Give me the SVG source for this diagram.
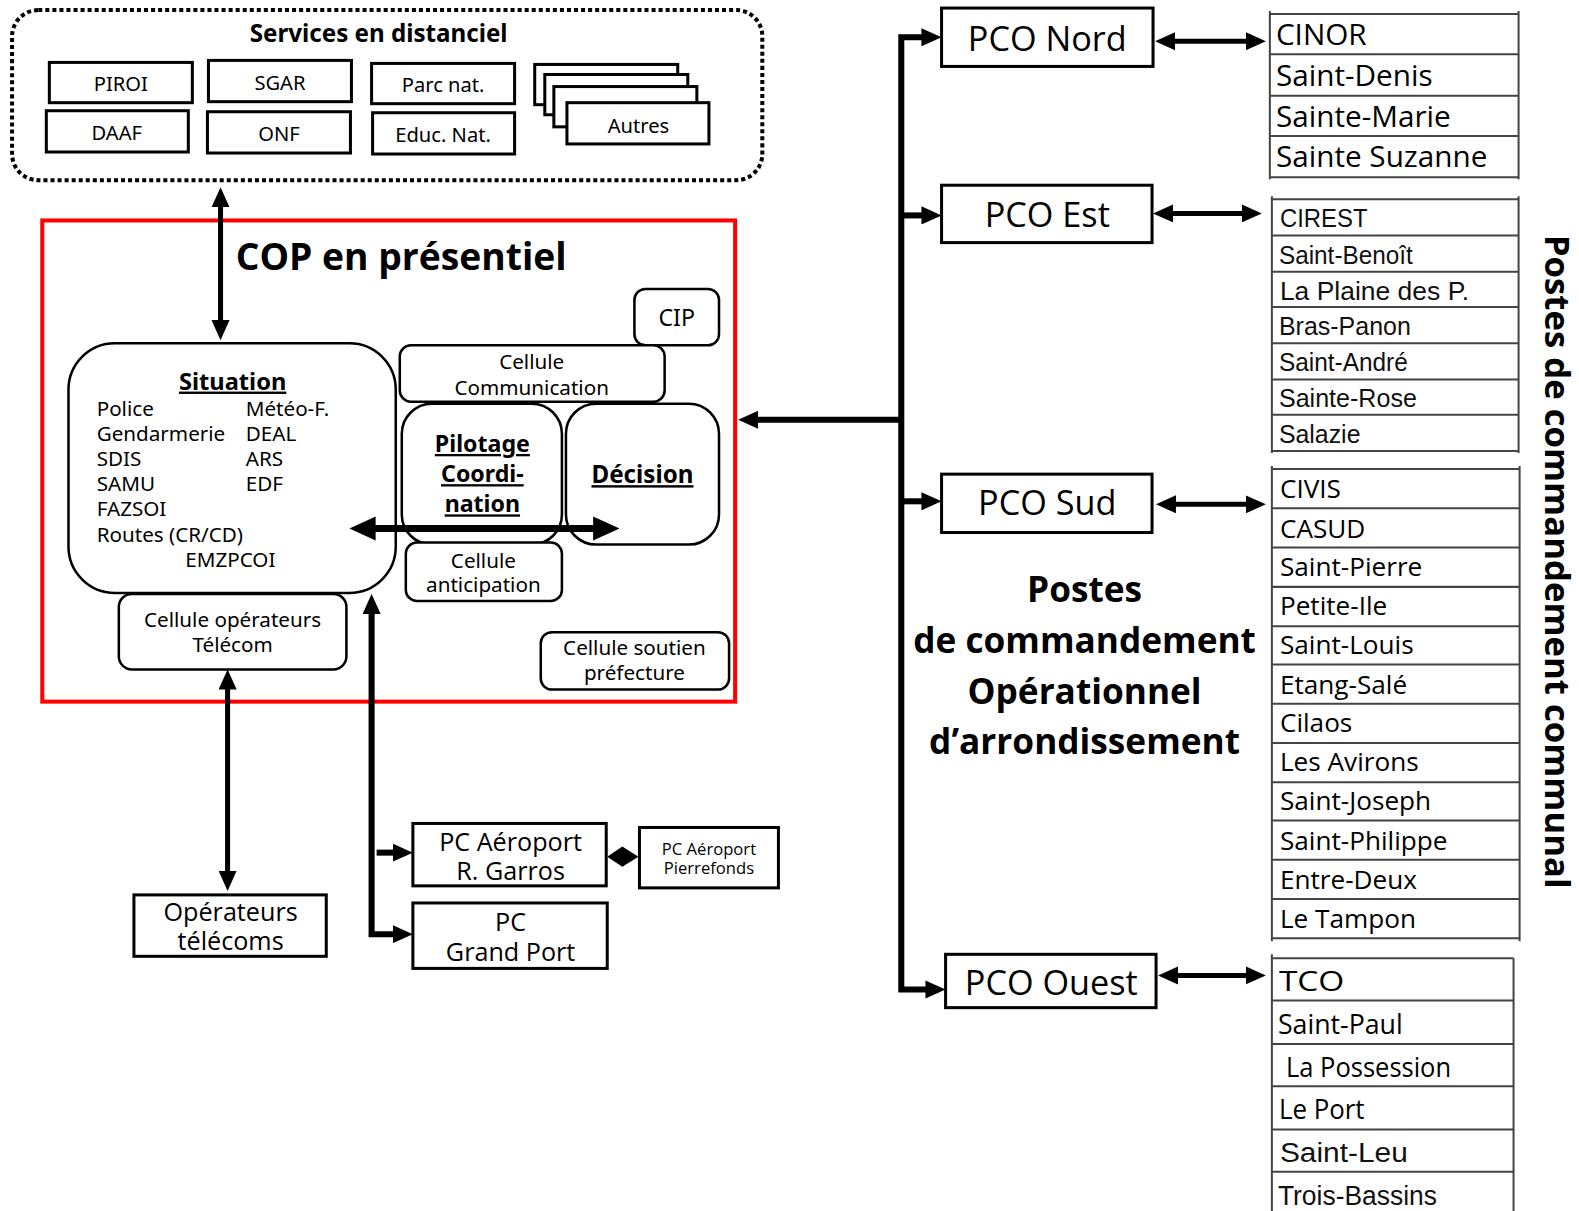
<svg xmlns="http://www.w3.org/2000/svg" width="1579" height="1211" viewBox="0 0 1579 1211">
<style>
.bx{fill:#fff;stroke:#000;stroke-width:3}
.rb{fill:#fff;stroke:#000;stroke-width:2.5}
.m{font-family:"Noto Sans","Open Sans",sans-serif;fill:#000}
.c{font-family:"Open Sans","Noto Sans",sans-serif;fill:#000}
.n{font-family:"Liberation Sans",Arial,sans-serif;fill:#111}
.b{font-weight:bold}
.mid{text-anchor:middle}
.ln{stroke:#000;fill:none}
.tl{stroke:#444;stroke-width:2;fill:none}
</style>
<defs>
<marker id="ah" markerUnits="userSpaceOnUse" markerWidth="20" markerHeight="18" refX="2" refY="9" orient="auto-start-reverse"><path d="M0,0 L20,9 L0,18 z" fill="#000"/></marker>
<marker id="ahb" markerUnits="userSpaceOnUse" markerWidth="26" markerHeight="24" refX="2" refY="12" orient="auto-start-reverse"><path d="M0,0 L26,12 L0,24 z" fill="#000"/></marker>
</defs>
<rect width="1579" height="1211" fill="#fff"/>
<g transform="scale(1.00702,1.00665)">
<g id="services">
<rect x="12" y="10" width="745" height="169" rx="26" fill="none" stroke="#000" stroke-width="4" stroke-dasharray="4 3"/>
<text class="m b mid" x="376" y="42" font-size="24">Services en distanciel</text>
</g>
<g id="piroi"><rect class="bx" x="49" y="62" width="142" height="40"/><text class="m mid" x="120" y="90" font-size="20">PIROI</text></g>
<g id="sgar"><rect class="bx" x="207" y="60" width="142" height="41"/><text class="m mid" x="278" y="89" font-size="20">SGAR</text></g>
<g id="parc"><rect class="bx" x="369" y="63" width="142" height="40"/><text class="m mid" x="440" y="91" font-size="20">Parc nat.</text></g>
<g id="daaf"><rect class="bx" x="46" y="110" width="141" height="41"/><text class="m mid" x="116" y="139" font-size="20">DAAF</text></g>
<g id="onf"><rect class="bx" x="206" y="111" width="142" height="41"/><text class="m mid" x="277" y="140" font-size="20">ONF</text></g>
<g id="educ"><rect class="bx" x="370" y="112" width="141" height="41"/><text class="m mid" x="440" y="141" font-size="20">Educ. Nat.</text></g>
<g id="autres">
<rect class="bx" x="531" y="64" width="142" height="40"/>
<rect class="bx" x="541" y="74" width="142" height="40"/>
<rect class="bx" x="550" y="86" width="142" height="40"/>
<rect class="bx" x="563" y="102" width="141" height="41"/>
<text class="m mid" x="634" y="132" font-size="20">Autres</text>
</g>

<g id="cop">
<rect x="42" y="219" width="688" height="478" fill="none" stroke="#f00" stroke-width="4"/>
<text class="c b" x="234" y="268" font-size="37">COP en présentiel</text>
</g>
<g id="situation">
<rect class="rb" x="68" y="341" width="325" height="248" rx="46"/>
<text class="m b mid" x="231" y="387" font-size="23.5" text-decoration="underline">Situation</text>
<g class="m" font-size="20.5">
<text x="96" y="413">Police</text><text x="244" y="413">Météo-F.</text>
<text x="96" y="438">Gendarmerie</text><text x="244" y="438">DEAL</text>
<text x="96" y="463">SDIS</text><text x="244" y="463">ARS</text>
<text x="96" y="488">SAMU</text><text x="244" y="488">EDF</text>
<text x="96" y="513">FAZSOI</text>
<text x="96" y="538">Routes (CR/CD)</text>
<text x="184" y="563">EMZPCOI</text>
</g>
</g>
<g id="cip"><rect class="rb" x="630" y="287" width="84" height="56" rx="11"/><text class="m mid" x="672" y="324" font-size="23">CIP</text></g>
<g id="com"><rect class="rb" x="397" y="343" width="263" height="56" rx="11"/><text class="m mid" x="528" y="367" font-size="20.5">Cellule</text><text class="m mid" x="528" y="392" font-size="20.5">Communication</text></g>
<g id="pilotage"><rect class="rb" x="399" y="401" width="159" height="140" rx="30"/>
<text class="m b mid" x="479" y="449" font-size="23" text-decoration="underline">Pilotage</text>
<text class="m b mid" x="479" y="479" font-size="23" text-decoration="underline">Coordi-</text>
<text class="m b mid" x="479" y="509" font-size="23" text-decoration="underline">nation</text></g>
<g id="decision"><rect class="rb" x="562" y="401" width="152" height="140" rx="30"/>
<text class="m b mid" x="638" y="480" font-size="24" text-decoration="underline">Décision</text></g>
<g id="anticipation"><rect class="rb" x="403" y="539" width="155" height="58" rx="11"/><text class="m mid" x="480" y="564" font-size="20.5">Cellule</text><text class="m mid" x="480" y="588" font-size="20.5">anticipation</text></g>
<g id="telecom"><rect class="rb" x="118" y="590" width="226" height="75" rx="13"/><text class="m mid" x="231" y="623" font-size="20.5">Cellule opérateurs</text><text class="m mid" x="231" y="648" font-size="20.5">Télécom</text></g>
<g id="soutien"><rect class="rb" x="537" y="628" width="187" height="57" rx="11"/><text class="m mid" x="630" y="651" font-size="20.5">Cellule soutien</text><text class="m mid" x="630" y="676" font-size="20.5">préfecture</text></g>

<g id="operateurs"><rect class="bx" x="133" y="889" width="191" height="61"/><text class="c mid" x="229" y="915" font-size="25">Opérateurs</text><text class="c mid" x="229" y="944" font-size="25">télécoms</text></g>
<g id="garros"><rect class="bx" x="410" y="818" width="192" height="62"/><text class="c mid" x="507" y="845" font-size="25">PC Aéroport</text><text class="c mid" x="507" y="874" font-size="25">R. Garros</text></g>
<g id="grandport"><rect class="bx" x="410" y="897" width="193" height="65"/><text class="c mid" x="507" y="925" font-size="25">PC</text><text class="c mid" x="507" y="955" font-size="25">Grand Port</text></g>
<g id="pierrefonds"><rect class="bx" x="635" y="822" width="138" height="60"/><text class="c mid" x="704" y="849" font-size="16.5">PC Aéroport</text><text class="c mid" x="704" y="868" font-size="16.5">Pierrefonds</text></g>

<g id="pco-nord"><rect class="bx" x="935" y="8" width="210" height="58"/><text class="c mid" x="1040" y="51" font-size="34">PCO Nord</text></g>
<g id="pco-est"><rect class="bx" x="935" y="184" width="209" height="57"/><text class="c mid" x="1040" y="226" font-size="34">PCO Est</text></g>
<g id="pco-sud"><rect class="bx" x="935" y="471" width="209" height="58"/><text class="c mid" x="1040" y="512" font-size="34">PCO Sud</text></g>
<g id="pco-ouest"><rect class="bx" x="939" y="948" width="209" height="53"/><text class="c mid" x="1044" y="988" font-size="34">PCO Ouest</text></g>

<g id="pco-label" class="c b mid" font-size="35">
<text x="1077" y="598">Postes</text>
<text x="1077" y="649">de commandement</text>
<text x="1077" y="699">Opérationnel</text>
<text x="1077" y="749">d’arrondissement</text>
</g>
<g id="pcc-label"><text class="c b mid" transform="translate(1534,558) rotate(90)" font-size="34.5">Postes de commandement communal</text></g>

<g id="list-nord">
<path class="tl" d="M1261,11 V178 M1508,11 V178 M1261,14 H1508 M1261,54 H1508 M1261,95 H1508 M1261,135 H1508 M1261,176 H1508"/>
<g class="c" font-size="29.5">
<text x="1267" y="45">CINOR</text><text x="1267" y="85">Saint-Denis</text><text x="1267" y="126">Sainte-Marie</text><text x="1267" y="166">Sainte Suzanne</text>
</g>
</g>
<g id="list-est">
<path class="tl" d="M1263,195 V450 M1508,195 V450 M1263,198 H1508 M1263,234 H1508 M1263,270 H1508 M1263,305 H1508 M1263,341 H1508 M1263,377 H1508 M1263,412 H1508 M1263,448 H1508"/>
<g class="n" font-size="26">
<text x="1271" y="226" textLength="87" lengthAdjust="spacingAndGlyphs">CIREST</text>
<text x="1270" y="262" textLength="133" lengthAdjust="spacingAndGlyphs">Saint-Benoît</text>
<text x="1271" y="298" textLength="188" lengthAdjust="spacingAndGlyphs">La Plaine des P.</text>
<text x="1270" y="333" textLength="131" lengthAdjust="spacingAndGlyphs">Bras-Panon</text>
<text x="1270" y="369" textLength="128" lengthAdjust="spacingAndGlyphs">Saint-André</text>
<text x="1270" y="404" textLength="137" lengthAdjust="spacingAndGlyphs">Sainte-Rose</text>
<text x="1270" y="440" textLength="81" lengthAdjust="spacingAndGlyphs">Salazie</text>
</g>
</g>
<g id="list-sud">
<path class="tl" d="M1263,463 V935 M1509,463 V935 M1263,466 H1509 M1263,505 H1509 M1263,544 H1509 M1263,583 H1509 M1263,622 H1509 M1263,660 H1509 M1263,699 H1509 M1263,738 H1509 M1263,777 H1509 M1263,815 H1509 M1263,854 H1509 M1263,893 H1509 M1263,932 H1509"/>
<g class="c" font-size="26">
<text x="1271" y="495">CIVIS</text><text x="1271" y="534">CASUD</text><text x="1271" y="572">Saint-Pierre</text><text x="1271" y="611">Petite-Ile</text><text x="1271" y="650">Saint-Louis</text><text x="1271" y="689">Etang-Salé</text><text x="1271" y="727">Cilaos</text><text x="1271" y="766">Les Avirons</text><text x="1271" y="805">Saint-Joseph</text><text x="1271" y="844">Saint-Philippe</text><text x="1271" y="883">Entre-Deux</text><text x="1271" y="922">Le Tampon</text>
</g>
</g>
<g id="list-ouest">
<path class="tl" d="M1263,948 V1211 M1503,952 V1211 M1263,952 H1503 M1263,994 H1503 M1263,1037 H1503 M1263,1079 H1503 M1263,1122 H1503 M1263,1164 H1503"/>
<g class="c" font-size="28">
<text x="1270" y="984" textLength="65" lengthAdjust="spacingAndGlyphs">TCO</text>
<text x="1269" y="1027" textLength="124" lengthAdjust="spacingAndGlyphs">Saint-Paul</text>
<text x="1277" y="1070" textLength="164" lengthAdjust="spacingAndGlyphs">La Possession</text>
<text x="1270" y="1112" textLength="85" lengthAdjust="spacingAndGlyphs">Le Port</text>
<text class="n" x="1271" y="1154" textLength="127" lengthAdjust="spacingAndGlyphs">Saint-Leu</text>
<text class="n" x="1269" y="1197" textLength="158" lengthAdjust="spacingAndGlyphs">Trois-Bassins</text>
</g>
</g>

<g id="connectors">
<path class="ln" stroke-width="5" d="M219,204 V320" marker-start="url(#ah)" marker-end="url(#ah)"/>
<path class="ln" stroke-width="7" d="M371,525 H591" marker-start="url(#ahb)" marker-end="url(#ahb)"/>
<path class="ln" stroke-width="5" d="M226,683 V867" marker-start="url(#ah)" marker-end="url(#ah)"/>
<path class="ln" stroke-width="6" d="M369,608 V928 H392" marker-start="url(#ah)" marker-end="url(#ah)"/>
<path class="ln" stroke-width="6" d="M374,847 H392" marker-end="url(#ah)"/>
<polygon points="603,851 618,841 634,851 618,861" fill="#000"/>
<path class="ln" stroke-width="6" d="M917,37 H895 V983 H921" marker-start="url(#ah)" marker-end="url(#ah)"/>
<path class="ln" stroke-width="6" d="M895,214 H917" marker-end="url(#ah)"/>
<path class="ln" stroke-width="6" d="M895,498 H917" marker-end="url(#ah)"/>
<path class="ln" stroke-width="6" d="M895,417 H751" marker-end="url(#ah)"/>
<path class="ln" stroke-width="5" d="M1165,41 H1239" marker-start="url(#ah)" marker-end="url(#ah)"/>
<path class="ln" stroke-width="5" d="M1163,212 H1235" marker-start="url(#ah)" marker-end="url(#ah)"/>
<path class="ln" stroke-width="5" d="M1166,501 H1239" marker-start="url(#ah)" marker-end="url(#ah)"/>
<path class="ln" stroke-width="5" d="M1168,969 H1239" marker-start="url(#ah)" marker-end="url(#ah)"/>
</g>
</g>
</svg>
